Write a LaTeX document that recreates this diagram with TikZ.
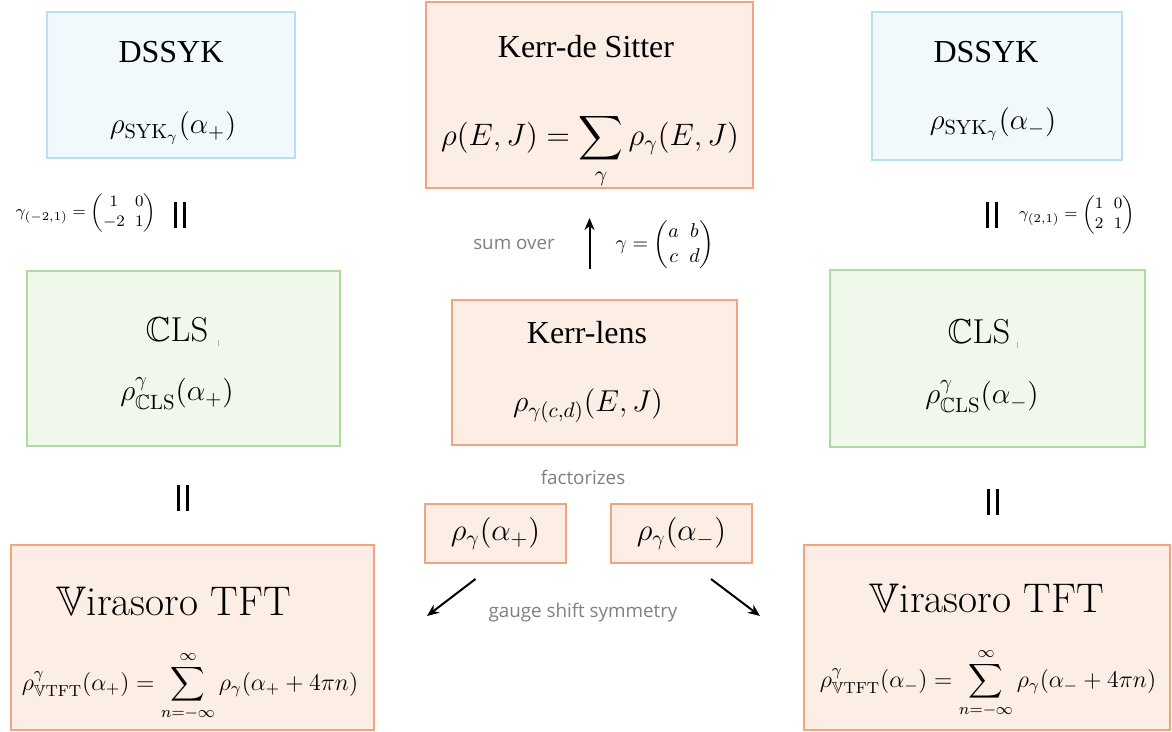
\RequirePackage{fix-cm}
\documentclass[tikz,border=0pt]{standalone}
\usepackage{amsmath,amssymb}
\usepackage{fontspec}
\newfontfamily\titlefont{Liberation Serif}
\newfontfamily\notefont{Open Sans}
\usetikzlibrary{arrows.meta, calc}
\definecolor{corange}{HTML}{F2A47E}
\definecolor{cblue}{HTML}{B8E0F3}
\definecolor{cgreen}{HTML}{AEDC9C}
\definecolor{cgrey}{HTML}{7F7F7F}
\newcommand{\eqbars}{\rule{1.6pt}{13pt}\hspace{3pt}\rule{1.6pt}{13pt}}
\tikzset{
  every picture/.style={line width=1pt},
  box/.style={draw=#1, fill=#1!20, inner sep=0pt},
  box/.default=corange,
  title/.style={font=\titlefont\fontsize{16}{19}\selectfont},
  formula/.style={font=\fontsize{#1}{#1}\selectfont, inner sep=0pt},
  formula/.default=12,
  mat/.style={formula=#1, execute at begin node={\setlength{\arraycolsep}{2.6pt}\renewcommand{\arraystretch}{1.25}}},
  note/.style={font=\notefont\fontsize{9.4}{11}\selectfont, text=cgrey},
  equal/.style={inner sep=0pt},
  arrow/.style={-{Stealth[length=6pt, width=5pt]}, line width=1pt},
}
\begin{document}
\begin{tikzpicture}[x=0.5pt, y=-0.5pt]
  \useasboundingbox (0,0) rectangle (1172,732);
  % top row
  \node[box=cblue, minimum width=124pt, minimum height=73pt] (dsl) at (171,85) {};
  \node[title] (dsltitle) at (171,52) {DSSYK};
  \node[formula=14.6] (dslrho) at (173,128) {$\rho_{\mathrm{SYK}_\gamma}(\alpha_+)$};
  \node[box, minimum width=163.5pt, minimum height=93pt] (kds) at (589.5,95) {};
  \node[title] (kdstitle) at (586,47) {Kerr-de Sitter};
  \node[formula=15.5, anchor=base] (kdsrho) at (590,146) {$\displaystyle\rho(E,J) = \sum_\gamma \rho_\gamma(E,J)$};
  \node[box=cblue, minimum width=125pt, minimum height=74pt] (dsr) at (997,86) {};
  \node[title] (dsrtitle) at (986,52) {DSSYK};
  \node[formula=14.6] (dsrrho) at (993,124) {$\rho_{\mathrm{SYK}_\gamma}(\alpha_-)$};
  % equalities between rows
  \node[mat=8] (gl) at (86,213) {$\gamma_{(-2,1)} = \begin{pmatrix} 1 & 0 \\ -2 & 1 \end{pmatrix}$};
  \node[equal] (eql1) at (180,215) {\eqbars};
  \node[equal] (eqr1) at (992,215) {\eqbars};
  \node[mat=8] (gr) at (1077,215) {$\gamma_{(2,1)} = \begin{pmatrix} 1 & 0 \\ 2 & 1 \end{pmatrix}$};
  \node[note] (sum) at (514,244) {sum over};
  \node[mat=10] (gabcd) at (665,245) {$\gamma = \begin{pmatrix} a & b \\ c & d \end{pmatrix}$};
  % middle row
  \node[box=cgreen, minimum width=156.5pt, minimum height=87.5pt] (clsl) at (183.5,358.5) {};
  \node[formula=17.3] (clsltitle) at (177,330) {$\mathbb{C}$LS};
  \node[formula=14.8] (clslrho) at (177,394) {$\rho^\gamma_{\mathbb{C}\mathrm{LS}}(\alpha_+)$};
  \draw[line width=0.3pt, cgrey!60] (218,340) -- (218,346);
  \node[box, minimum width=142.5pt, minimum height=72.5pt] (kl) at (594.5,372.5) {};
  \node[title] (kltitle) at (587,333) {Kerr-lens};
  \node[formula=15.1] (klrho) at (588,406) {$\rho_{\gamma(c,d)}(E,J)$};
  \node[box=cgreen, minimum width=157.5pt, minimum height=88.5pt] (clsr) at (987.5,358.5) {};
  \node[formula=17.3] (clsrtitle) at (979,332) {$\mathbb{C}$LS};
  \node[formula=14.8] (clsrrho) at (982,397) {$\rho^\gamma_{\mathbb{C}\mathrm{LS}}(\alpha_-)$};
  \draw[line width=0.3pt, cgrey!60] (1017,342) -- (1017,348);
  \draw[arrow, shorten <=15pt, shorten >=14.5pt] (kds.south |- kl.north) -- (kds.south);
  % bottom row
  \node[note] (fact) at (583,477) {factorizes};
  \node[equal] (eql2) at (183,498) {\eqbars};
  \node[equal] (eqr2) at (993,502) {\eqbars};
  \node[box, minimum width=70.5pt, minimum height=29.5pt] (rp) at (495.5,533.5) {};
  \node[formula=15.4] (rptext) at (rp) {$\rho_\gamma(\alpha_+)$};
  \node[box, minimum width=70.5pt, minimum height=29.5pt] (rm) at (681.5,533.5) {};
  \node[formula=15.4] (rmtext) at (rm) {$\rho_\gamma(\alpha_-)$};
  \node[note] (gauge) at (583,613) {gauge shift symmetry};
  \node[box, minimum width=181.5pt, minimum height=92.5pt] (vl) at (192.5,637.5) {};
  \node[formula=20.7] (vltitle) at (174,601) {$\mathbb{V}$irasoro TFT};
  \node[formula, anchor=base] (vlrho) at (190,690) {$\displaystyle\rho^\gamma_{\mathbb{V}\mathrm{TFT}}(\alpha_+) = \sum_{n=-\infty}^{\infty} \rho_\gamma(\alpha_+ + 4\pi n)$};
  \node[box, minimum width=183pt, minimum height=92.5pt] (vr) at (987,637.5) {};
  \node[formula=20.7] (vrtitle) at (987,598) {$\mathbb{V}$irasoro TFT};
  \node[formula, anchor=base] (vrrho) at (988,687) {$\displaystyle\rho^\gamma_{\mathbb{V}\mathrm{TFT}}(\alpha_-) = \sum_{n=-\infty}^{\infty} \rho_\gamma(\alpha_- + 4\pi n)$};
  \coordinate (gsl) at (427,616);
  \coordinate (gsr) at (760,616);
  \draw[arrow] ($(rp.south)+(-20,15)$) -- (gsl);
  \draw[arrow] ($(rm.south)+(29.5,15)$) -- (gsr);
\end{tikzpicture}
\end{document}
